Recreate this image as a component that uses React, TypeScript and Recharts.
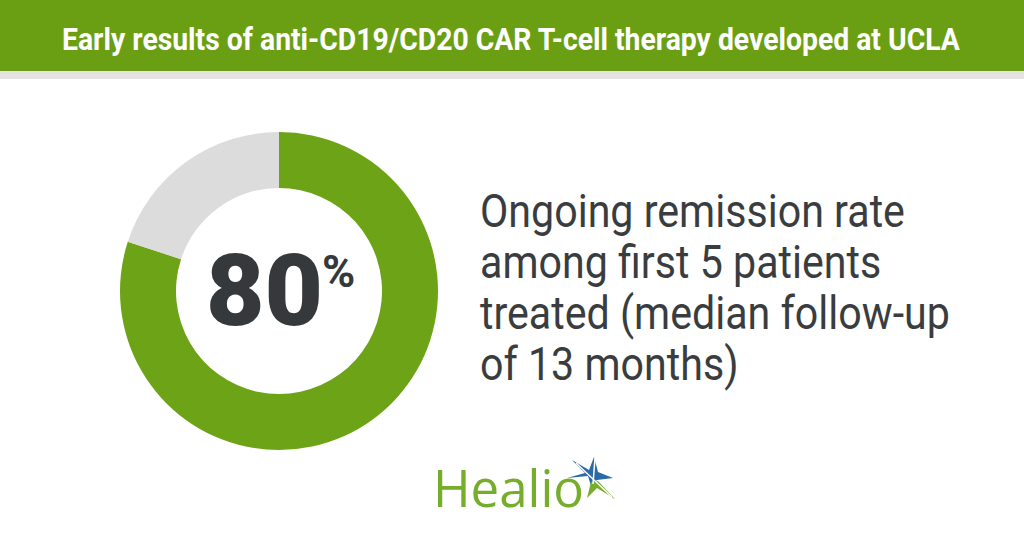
import { useLayoutEffect, useRef, useState } from 'react';
import { PieChart, Pie, Cell } from 'recharts';

const segmentNames = ['Ongoing remission', 'Other'];
const segmentValues = [80, 20];
const segmentColors = ['#6da316', '#dcdcdc'];

const titleText = 'Early results of anti-CD19/CD20 CAR T-cell therapy developed at UCLA';
const centerValue = '80';
const centerUnit = '%';
const descriptionLines = [
  'Ongoing remission rate',
  'among first 5 patients',
  'treated (median follow-up',
  'of 13 months)',
];
const brandName = 'Healio';

const W = 1024;
const H = 538;
const TITLE_X = 62;
const TITLE_WIDTH = 898;

export default function App() {
  const data = segmentNames.map((name, i) => ({ name, value: segmentValues[i] }));
  const titleRef = useRef<SVGTextElement>(null);
  const [titleScale, setTitleScale] = useState(0.8);

  // squeeze the title like the condensed face in the original
  useLayoutEffect(() => {
    if (titleRef.current) {
      const natural = titleRef.current.getComputedTextLength();
      if (natural > 0) setTitleScale(TITLE_WIDTH / natural);
    }
  }, []);

  return (
    <div style={{ position: 'relative', width: W, height: H, background: '#ffffff', overflow: 'hidden' }}>
      <style>{'body { margin: 0; }'}</style>

      <PieChart
        width={W}
        height={H}
        margin={{ top: 0, right: 0, bottom: 0, left: 0 }}
        style={{ position: 'absolute', left: 0, top: 0 }}
      >
        <Pie
          data={data}
          dataKey="value"
          nameKey="name"
          cx={279}
          cy={291}
          innerRadius={103}
          outerRadius={159}
          startAngle={90}
          endAngle={-270}
          stroke="none"
          isAnimationActive={false}
        >
          {data.map((_, i) => (
            <Cell key={i} fill={segmentColors[i]} />
          ))}
        </Pie>
      </PieChart>

      <svg
        width={W}
        height={H}
        style={{ position: 'absolute', left: 0, top: 0, pointerEvents: 'none' }}
      >
        {/* header band */}
        <rect x={0} y={0} width={W} height={71} fill="#6b9f13" />
        <rect x={0} y={71} width={W} height={8} fill="#e6e2e2" />
        <g transform={`translate(${TITLE_X},50) scale(${titleScale},1)`}>
          <text
            ref={titleRef}
            x={0}
            y={0}
            fill="#ffffff"
            fontFamily="Roboto, sans-serif"
            fontWeight={700}
            fontSize={31}
          >
            {titleText}
          </text>
        </g>

        {/* centre figure */}
        <text
          x={206}
          y={325}
          fill="#35393b"
          fontFamily="Roboto, sans-serif"
          fontWeight={900}
          fontSize={101}
        >
          {centerValue}
        </text>
        <text
          x={322}
          y={287}
          fill="#35393b"
          fontFamily="Roboto, sans-serif"
          fontWeight={700}
          fontSize={45}
        >
          {centerUnit}
        </text>

        {/* description, slightly narrower than plain Roboto */}
        <g transform="translate(480,0) scale(0.895,1)">
          {descriptionLines.map((line, i) => (
            <text
              key={i}
              x={0}
              y={227 + i * 51}
              fill="#3a3d3f"
              fontFamily="Roboto, sans-serif"
              fontSize={46}
            >
              {line}
            </text>
          ))}
        </g>

        {/* logo */}
        <text
          x={433}
          y={507}
          fill="#76ad2b"
          fontFamily="'Open Sans', sans-serif"
          fontSize={51}
        >
          {brandName}
        </text>
        <polygon
          points="572,460 589,470 594,457 598,472 613,478 597,480 591,486 588,476 567,478 585,473"
          fill="#2a6aa6"
        />
        <polygon points="591,482 598,481 615,499 597,488 587,498" fill="#76ad2b" />
        <line x1={576} y1={463} x2={612} y2={497} stroke="#ffffff" strokeWidth={1.5} />
        <line x1={595} y1={458} x2={593} y2={484} stroke="#ffffff" strokeWidth={1.5} />
      </svg>
    </div>
  );
}
